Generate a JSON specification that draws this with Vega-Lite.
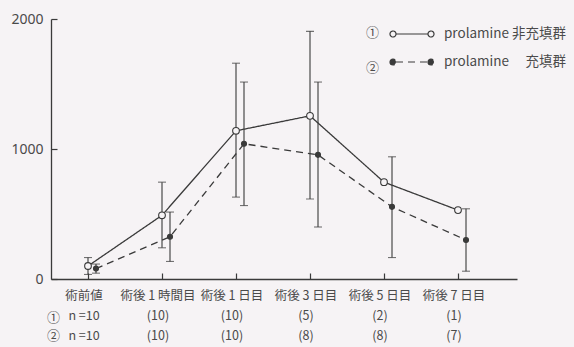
{
  "$schema": "https://vega.github.io/schema/vega-lite/v6.json",
  "width": 466,
  "height": 260,
  "autosize": {"type": "none"},
  "padding": {"left": 51, "top": 19, "right": 57, "bottom": 68},
  "background": "#f6f3f5",
  "config": {
    "view": {"stroke": null},
    "font": "Noto Sans CJK JP",
    "axis": {"domainColor": "#3a3a3a", "tickColor": "#3a3a3a", "labelColor": "#4a4a4a", "grid": false, "domainWidth": 1.3, "tickWidth": 1.2}
  },
  "data": {
    "values": [
      {"t": "術前値|n =10|n =10", "s": "prolamine 非充填群", "num": "①", "m": 100, "lo": 35, "hi": 165},
      {"t": "術後 1 時間目|(10)|(10)", "s": "prolamine 非充填群", "num": "①", "m": 490, "lo": 240, "hi": 745},
      {"t": "術後 1 日目|(10)|(10)", "s": "prolamine 非充填群", "num": "①", "m": 1140, "lo": 630, "hi": 1660},
      {"t": "術後 3 日目|(5)|(8)", "s": "prolamine 非充填群", "num": "①", "m": 1255, "lo": 615, "hi": 1905},
      {"t": "術後 5 日目|(2)|(8)", "s": "prolamine 非充填群", "num": "①", "m": 745, "lo": null, "hi": null},
      {"t": "術後 7 日目|(1)|(7)", "s": "prolamine 非充填群", "num": "①", "m": 530, "lo": null, "hi": null},
      {"t": "術前値|n =10|n =10", "s": "prolamine 　充填群", "num": "②", "m": 80, "lo": 45, "hi": 115},
      {"t": "術後 1 時間目|(10)|(10)", "s": "prolamine 　充填群", "num": "②", "m": 325, "lo": 135, "hi": 515},
      {"t": "術後 1 日目|(10)|(10)", "s": "prolamine 　充填群", "num": "②", "m": 1040, "lo": 565, "hi": 1515},
      {"t": "術後 3 日目|(5)|(8)", "s": "prolamine 　充填群", "num": "②", "m": 955, "lo": 400, "hi": 1515},
      {"t": "術後 5 日目|(2)|(8)", "s": "prolamine 　充填群", "num": "②", "m": 555, "lo": 165, "hi": 940},
      {"t": "術後 7 日目|(1)|(7)", "s": "prolamine 　充填群", "num": "②", "m": 300, "lo": 60, "hi": 540}
    ]
  },
  "encoding": {
    "x": {
      "field": "t", "type": "nominal", "sort": null,
      "scale": {"type": "band", "paddingInner": 0, "paddingOuter": 0.1486, "align": 0},
      "axis": {
        "labelAngle": 0, "labelExpr": "split(datum.value, '|')", "labelFontSize": 12.5, "labelLineHeight": 20,
        "labelPadding": 16, "labelOffset": -4, "tickSize": -6, "labelBaseline": "top",
        "title": ["①", "②"], "titleX": 2, "titleY": 38, "titleBaseline": "middle", "titleAlign": "center",
        "titleFontSize": 13, "titleFontWeight": "normal", "titleColor": "#4a4a4a", "titleLineHeight": 18
      }
    },
    "xOffset": {"field": "s", "type": "nominal", "sort": null, "scale": {"type": "point", "range": [37, 45], "padding": 0}},
    "y": {
      "field": "m", "type": "quantitative",
      "scale": {"domain": [0, 2000], "nice": false},
      "axis": {"values": [0, 1000, 2000], "format": "d", "title": null, "tickSize": -6, "labelPadding": 14, "labelFontSize": 14, "labelFont": "Noto Sans"}
    }
  },
  "layer": [
    {
      "mark": {"type": "rule", "color": "#3a3a3a", "strokeWidth": 1.1},
      "encoding": {"y": {"field": "lo", "type": "quantitative"}, "y2": {"field": "hi"}}
    },
    {
      "mark": {"type": "tick", "color": "#3a3a3a", "size": 8, "thickness": 1.1, "orient": "horizontal"},
      "encoding": {"y": {"field": "hi", "type": "quantitative"}}
    },
    {
      "mark": {"type": "tick", "color": "#3a3a3a", "size": 8, "thickness": 1.1, "orient": "horizontal"},
      "encoding": {"y": {"field": "lo", "type": "quantitative"}}
    },
    {
      "mark": {"type": "line", "color": "#3a3a3a", "strokeWidth": 1.3},
      "encoding": {
        "strokeDash": {
          "field": "s", "type": "nominal", "sort": null,
          "scale": {"range": [[1, 0], [7, 5]]},
          "legend": {
            "title": null, "orient": "none", "legendX": 338, "legendY": -1, "padding": 0,
            "symbolType": "M-1,0A0.2,0.2 0 1,1 -0.6,0A0.2,0.2 0 1,1 -1,0ZM-0.6,0L1.533,0M1.533,0A0.2,0.2 0 1,1 1.933,0A0.2,0.2 0 1,1 1.533,0Z",
            "symbolSize": 900, "symbolStrokeColor": "#3a3a3a", "symbolStrokeWidth": 1.2,
            "labelOffset": 23, "labelFontSize": 13.5, "labelColor": "#4a4a4a", "rowPadding": 5, "labelLimit": 300,
            "encode": {"symbols": {"update": {
              "fill": {"signal": "indexof(datum.value, '非') >= 0 ? '#f6f3f5' : '#3a3a3a'"},
              "stroke": {"value": "#3a3a3a"}, "strokeWidth": {"value": 1.2}, "opacity": {"value": 1}}}}
          }
        },
        "opacity": {
          "field": "num", "type": "ordinal", "sort": null,
          "scale": {"range": [1, 1]},
          "legend": {
            "title": null, "orient": "none", "legendX": 285, "legendY": -1, "padding": 0,
            "symbolType": "circle", "symbolSize": 900, "symbolOpacity": 0, "symbolStrokeWidth": 0,
            "labelOffset": 0, "labelFontSize": 13, "labelColor": "#4a4a4a", "rowPadding": 5
          }
        }
      }
    },
    {
      "mark": {"type": "point", "shape": "circle", "filled": true, "stroke": "#3a3a3a", "strokeWidth": 1.1, "opacity": 1},
      "encoding": {
        "fill": {"field": "s", "type": "nominal", "sort": null, "scale": {"range": ["#f6f3f5", "#3a3a3a"]}, "legend": null},
        "size": {"field": "s", "type": "nominal", "sort": null, "scale": {"range": [45, 25]}, "legend": null}
      }
    }
  ]
}
